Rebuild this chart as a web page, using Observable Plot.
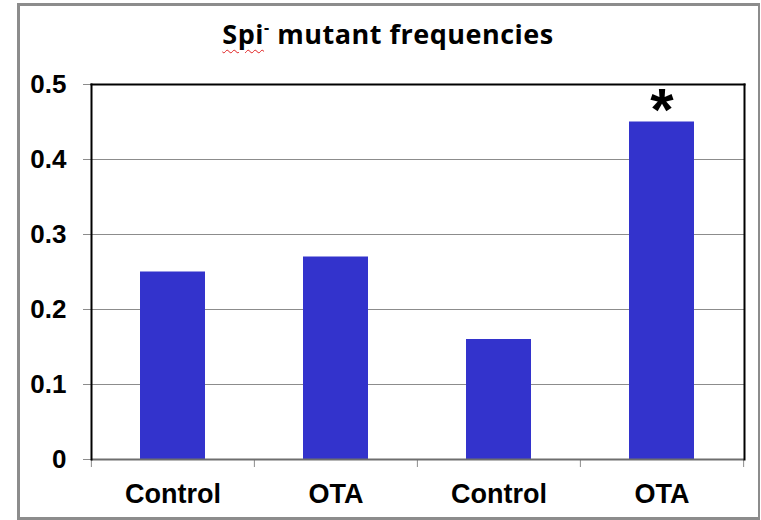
<!DOCTYPE html>
<html>
<head>
<meta charset="utf-8">
<script src="https://cdn.jsdelivr.net/npm/d3@7"></script>
<script src="https://cdn.jsdelivr.net/npm/@observablehq/plot@0.6"></script>
<style>
  html, body { margin: 0; padding: 0; background: #fff; }
  #wrap { position: relative; width: 761px; height: 520px; overflow: hidden; }
  #frame { position: absolute; left: 17px; top: 3px; width: 738px; height: 511px; border: 3px solid #8c8c8c; border-right-width: 2px; border-bottom-width: 3px; pointer-events: none; }
  #title { position: absolute; left: 0; width: 776px; top: 15px; text-align: center; font-family: "Open Sans", "Lato", sans-serif; font-weight: 700; font-size: 27px; letter-spacing: 0.5px; color: #000; }
  #title .sp { text-decoration: underline wavy #e02020; text-decoration-thickness: 1px; text-underline-offset: 5px; }
  #title sup { font-size: 16px; vertical-align: 11px; line-height: 0; }
  #chart { position: absolute; left: 0; top: 0; }
</style>
</head>
<body>
<div id="wrap">
  <div id="chart"></div>
  <div id="title"><span class="sp">Spi</span><sup>-</sup> mutant frequencies</div>
  <div id="frame"></div>
</div>
<script>
const keys = ["c1", "o1", "c2", "o2"];
const categories = ["Control", "OTA", "Control", "OTA"];
const values = [0.25, 0.27, 0.16, 0.45];
const annotations = ["", "", "", "*"];
const yTicks = [0, 0.1, 0.2, 0.3, 0.4, 0.5];

const data = keys.map((k, i) => ({key: k, label: categories[i], value: values[i], note: annotations[i]}));
const labelOf = Object.fromEntries(keys.map((k, i) => [k, categories[i]]));

const W = 761, H = 520, mL = 91, mR = 17, mT = 84, mB = 61;
const step = (W - mL - mR) / keys.length;

const chart = Plot.plot({
  width: W,
  height: H,
  marginLeft: mL,
  marginRight: mR,
  marginTop: mT,
  marginBottom: mB,
  style: {fontFamily: "Liberation Sans, Arial, sans-serif", background: "transparent"},
  x: {domain: keys, paddingInner: 0.6, paddingOuter: 0.3, axis: null},
  y: {domain: [0, 0.5], axis: null},
  marks: [
    Plot.ruleY(yTicks, {stroke: "#8c8c8c", strokeWidth: 1}),
    Plot.axisY({ticks: yTicks, label: null, tickSize: 8, tickPadding: 17, tickFormat: d => d === 0 ? "0" : d.toFixed(1), fontSize: 26, fontWeight: "bold", stroke: "#8c8c8c", color: "#000"}),
    Plot.barY(data, {x: "key", y: "value", fill: "#3333cc"}),
    Plot.ruleX(keys, {x: d => d, y1: 0, y2: 0, dx: -step / 2, insetBottom: -8, stroke: "#8c8c8c"}),
    Plot.ruleX([keys[keys.length - 1]], {x: d => d, y1: 0, y2: 0, dx: step / 2, insetBottom: -8, stroke: "#8c8c8c"}),
    Plot.axisX({label: null, tickSize: 0, tickPadding: 24, tickFormat: k => labelOf[k], fontSize: 27, fontWeight: "bold", color: "#000"}),
    Plot.ruleY([0], {stroke: "#6e6e6e", strokeWidth: 2}),
    Plot.frame({anchor: "left", stroke: "#000", strokeWidth: 2}),
    Plot.frame({anchor: "top", stroke: "#000", strokeWidth: 2}),
    Plot.frame({anchor: "right", stroke: "#000", strokeWidth: 2}),
    Plot.text(data.filter(d => d.note), {x: "key", y: "value", text: "note", fontSize: 60, fontWeight: "bold", dy: 8, lineAnchor: "bottom", fill: "#000"})
  ]
});
document.getElementById("chart").appendChild(chart);
</script>
</body>
</html>
